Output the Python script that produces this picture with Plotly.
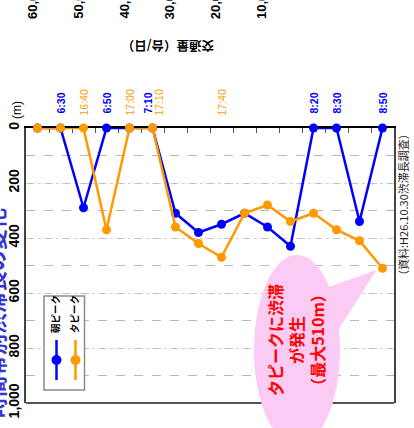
import plotly.graph_objects as go

# --- data -------------------------------------------------------------
morning_times = ["6:20", "6:30", "6:40", "6:50", "7:00", "7:10", "7:20", "7:30",
                 "7:40", "7:50", "8:00", "8:10", "8:20", "8:30", "8:40", "8:50"]
evening_times = ["16:20", "16:30", "16:40", "16:50", "17:00", "17:10", "17:20", "17:30",
                 "17:40", "17:50", "18:00", "18:10", "18:20", "18:30", "18:40", "18:50"]
morning_jam_m = [0, 0, 290, 0, 0, 0, 310, 380, 350, 310, 360, 430, 0, 0, 340, 0]
evening_jam_m = [0, 0, 0, 370, 0, 0, 360, 420, 470, 310, 280, 340, 310, 370, 410, 510]

morning_labeled = ["6:30", "6:50", "7:10", "8:20", "8:30", "8:50"]
evening_labeled = ["16:40", "17:00", "17:10", "17:40"]

length_ticks = [0, 200, 400, 600, 800, 1000]
length_tick_text = ["0", "200", "400", "600", "800", "1,000"]
volume_tick_text = ["60,000", "50,000", "40,000", "30,000", "20,000", "10,000"]

series_names = ["朝ピーク", "夕ピーク"]
max_jam = max(evening_jam_m)

# --- styling ----------------------------------------------------------
BLUE = "#0000FF"
ORANGE = "#FF9900"
PINK = "#FCCBF3"
LATIN = "Liberation Sans, Arial, Noto Sans CJK JP"
CJK = "Noto Sans CJK JP, Liberation Sans"

W, H = 414, 428
L, R, T, B = 26, 20, 128, 25
PW, PH = W - L - R, H - T - B


def px(xp):
    return (xp - L) / PW


def py(yp):
    return (T + PH - yp) / PH


def note(x, y, text, angle, font, **kw):
    """Free-standing text placed in figure pixels, centred on (x, y)."""
    d = dict(x=px(x), y=py(y), xref="paper", yref="paper", text=text,
             textangle=angle, showarrow=False, xanchor="center",
             yanchor="middle", font=font)
    d.update(kw)
    return d


slots = list(range(len(morning_times)))

fig = go.Figure()
fig.add_trace(go.Scatter(
    x=slots, y=morning_jam_m, mode="lines+markers", name=series_names[0],
    line=dict(color=BLUE, width=2.5), marker=dict(color=BLUE, size=9),
    cliponaxis=False))
fig.add_trace(go.Scatter(
    x=slots, y=evening_jam_m, mode="lines+markers", name=series_names[1],
    line=dict(color=ORANGE, width=2.5), marker=dict(color=ORANGE, size=9),
    cliponaxis=False))

annotations = []

# time labels along the top edge, above the chosen slots
for t in morning_labeled:
    i = morning_times.index(t)
    shift = -5 if evening_times[i] in evening_labeled else 0
    annotations.append(dict(
        x=i, y=0, xref="x", yref="y", text=f"<b>{t}</b>",
        textangle=-90, showarrow=False, yshift=25, xshift=shift,
        xanchor="center", yanchor="middle",
        font=dict(family=LATIN, size=10.5, color=BLUE)))
for t in evening_labeled:
    i = evening_times.index(t)
    shift = 6 if morning_times[i] in morning_labeled else 0
    annotations.append(dict(
        x=i, y=0, xref="x", yref="y", text=t,
        textangle=-90, showarrow=False, yshift=25, xshift=shift,
        xanchor="center", yanchor="middle",
        font=dict(family=LATIN, size=10.5, color=ORANGE)))

# traffic volume axis labels (upper panel)
for k, lab in enumerate(volume_tick_text):
    annotations.append(note(33 + 45.8 * k, 21, f"<b>{lab}</b>", -90,
                            dict(family=LATIN, size=13, color="#000000"),
                            yanchor="bottom"))
annotations.append(note(168, 47, "<b>交通量（台/日）</b>", 180,
                        dict(family=CJK, size=12.5, color="#000000")))

# axis titles and source note
annotations.append(note(17, 110, "(m)", -90,
                        dict(family=LATIN, size=12, color="#000000")))
annotations.append(note(-5, 313, "<b>時間帯別渋滞長の変化</b>", -90,
                        dict(family=CJK, size=21, color="#3535D0")))
annotations.append(note(403, 205, "（資料:H26.10.30渋滞長調査）", -90,
                        dict(family=CJK, size=11, color="#222222")))

# callout text
annotations.append(note(296, 340, f"<b>夕ピークに渋滞<br>が発生<br>（最大{max_jam}m）</b>", -90,
                        dict(family=CJK, size=16, color="#FF0000"), align="center"))

# hand-drawn legend (rotated entries)
legend_x = [55, 74]
legend_col = [BLUE, ORANGE]
for name, lx in zip(series_names, legend_x):
    annotations.append(note(lx, 314, f"<b>{name}</b>", -90,
                            dict(family=CJK, size=9.5, color="#000000")))

shapes = [
    # bottom frame line
    dict(type="line", xref="paper", yref="paper", x0=0, x1=1, y0=0, y1=0,
         line=dict(color="#555555", width=2), layer="between"),
    # callout bubble
    dict(type="circle", xref="paper", yref="paper",
         x0=px(254), x1=px(340), y0=py(445), y1=py(255),
         fillcolor=PINK, line=dict(width=0), layer="above"),
    dict(type="path", xref="paper", yref="paper",
         path=f"M {px(326)},{py(288)} L {px(376.5)},{py(270)} L {px(338)},{py(330)} Z",
         fillcolor=PINK, line=dict(width=0), layer="above"),
    # legend frame
    dict(type="rect", xref="paper", yref="paper",
         x0=px(44), x1=px(84.5), y0=py(390), y1=py(296),
         fillcolor="white", line=dict(color="#8A8A8A", width=1.5), layer="above"),
]
for lx, col in zip(legend_x, legend_col):
    mx = lx + 1.5
    shapes.append(dict(type="line", xref="paper", yref="paper",
                       x0=px(mx), x1=px(mx), y0=py(380), y1=py(340),
                       line=dict(color=col, width=2.5), layer="above"))
    shapes.append(dict(type="circle", xref="paper", yref="paper",
                       xsizemode="pixel", ysizemode="pixel",
                       xanchor=px(mx), yanchor=py(360),
                       x0=-5, x1=5, y0=-5, y1=5,
                       fillcolor=col, line=dict(width=0), layer="above"))

fig.update_layout(
    width=W, height=H,
    margin=dict(l=L, r=R, t=T, b=B, pad=0, autoexpand=False),
    paper_bgcolor="white", plot_bgcolor="white",
    showlegend=False,
    annotations=annotations,
    shapes=shapes,
    xaxis=dict(
        range=[-0.5, len(slots) - 0.5], side="top", automargin=False,
        tickvals=[s + 0.5 for s in slots[:-1]], ticktext=[""] * (len(slots) - 1),
        ticks="inside", ticklen=5, tickcolor="#555555", tickwidth=1,
        showticklabels=False, showgrid=False, zeroline=False,
        showline=True, linecolor="#000000", linewidth=1.5, layer="below traces",
        fixedrange=True),
    yaxis=dict(
        range=[1000, 0], tickvals=length_ticks, ticktext=length_tick_text,
        tickangle=-90, ticks="", ticklabelstandoff=0, automargin=False,
        tickfont=dict(family=LATIN, size=14, color="#000000", weight="bold"),
        showgrid=True, gridcolor="#D0D0D0", griddash="dot", gridwidth=1,
        minor=dict(dtick=100, showgrid=True, gridcolor="#B8B8B8",
                   griddash="dash", gridwidth=1),
        zeroline=False, showline=True, linecolor="#444444", linewidth=1.5,
        mirror=True, layer="below traces", fixedrange=True),
)

fig.write_html("out.html")
